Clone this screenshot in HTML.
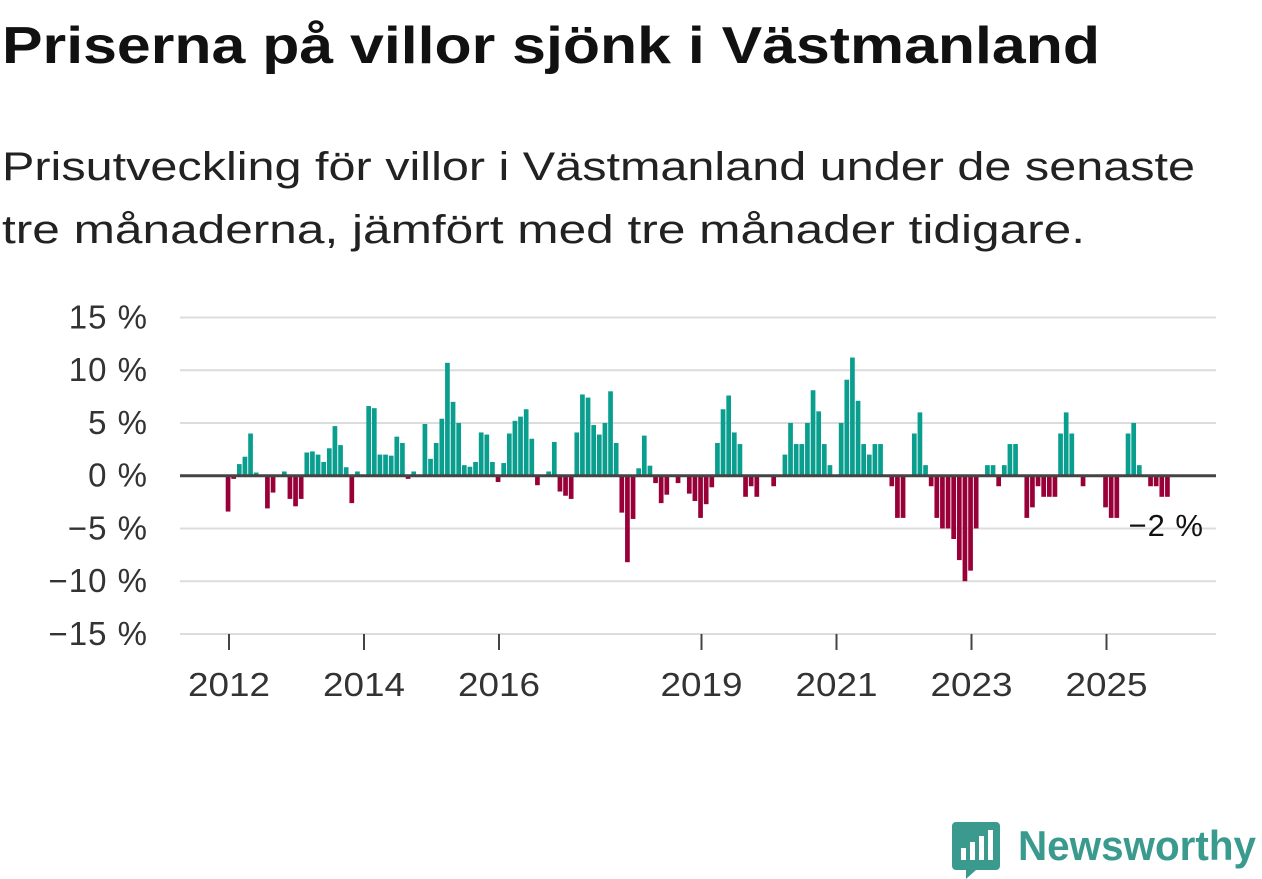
<!DOCTYPE html>
<html><head><meta charset="utf-8"><style>
html,body{margin:0;padding:0;background:#fff;}
svg{display:block;font-family:"Liberation Sans",sans-serif;}
</style></head><body>
<svg id="chart" width="1262" height="879" viewBox="0 0 1262 879">
<text x="2" y="63" font-size="52" font-weight="bold" fill="#111" textLength="1098" lengthAdjust="spacingAndGlyphs">Priserna på villor sjönk i Västmanland</text>
<text x="2" y="180" font-size="40" fill="#222" textLength="1193" lengthAdjust="spacingAndGlyphs">Prisutveckling för villor i Västmanland under de senaste</text>
<text x="2" y="243" font-size="40" fill="#222" textLength="1083" lengthAdjust="spacingAndGlyphs">tre månaderna, jämfört med tre månader tidigare.</text>
<g id="grid"></g>
<g id="yaxis"></g>
<g id="bars"></g>
<g id="xaxis"></g>
<text x="1204" y="536" font-size="31" fill="#111" text-anchor="end" letter-spacing="1">−2 %</text>
<g>
<path d="M956 822 h40 a4 4 0 0 1 4 4 v40 a4 4 0 0 1 -4 4 h-20 l-10 9 v-9 h-10 a4 4 0 0 1 -4 -4 v-40 a4 4 0 0 1 4 -4z" fill="#3a9a8e"/>
<rect x="961" y="848" width="5" height="12" fill="#fff"/>
<rect x="970" y="842" width="5" height="18" fill="#fff"/>
<rect x="979" y="836" width="5" height="24" fill="#fff"/>
<rect x="988" y="830" width="5" height="30" fill="#fff"/>
<text x="1018" y="860" font-size="42" font-weight="bold" fill="#3a9a8e" textLength="238" lengthAdjust="spacingAndGlyphs">Newsworthy</text>
</g>
</svg>
<script>
const values = [-3.4,-0.3,1.1,1.8,4.0,0.3,0,-3.1,-1.6,0,0.4,-2.2,-2.9,-2.2,2.2,2.3,2.0,1.3,2.6,4.7,2.9,0.8,-2.6,0.4,0,6.6,6.4,2.0,2.0,1.9,3.7,3.1,-0.3,0.4,0,4.9,1.6,3.1,5.4,10.7,7.0,5.0,1.0,0.85,1.3,4.1,3.9,1.3,-0.6,1.2,4.0,5.2,5.6,6.3,3.5,-0.9,0,0.4,3.2,-1.5,-1.9,-2.2,4.1,7.7,7.4,4.8,3.9,5.0,8.0,3.1,-3.5,-8.2,-4.1,0.7,3.8,0.95,-0.7,-2.6,-1.8,0,-0.7,0,-1.7,-2.4,-4.0,-2.7,-1.1,3.1,6.3,7.6,4.1,3.0,-2.0,-1.0,-2.0,0,0,-1.0,0,2.0,5.0,3.0,3.0,5.0,8.1,6.1,3.0,1.0,0,5.0,9.1,11.2,7.1,3.0,2.0,3.0,3.0,0,-1.0,-4.0,-4.0,0,4.0,6.0,1.0,-1.0,-4.0,-5.0,-5.0,-6.0,-8.0,-10.0,-9.0,-5.0,0,1,1,-1,1,3,3,0,-4,-3,-1,-2,-2,-2,4,6,4,0,-1,0,0,0,-3,-4,-4,0,4,5,1,0,-1,-1,-2,-2];
const startYear = 2012;
const yTicks = [15,10,5,0,-5,-10,-15];
const yTickLabels = ["15 %","10 %","5 %","0 %","−5 %","−10 %","−15 %"];
const xTickYears = [2012,2014,2016,2019,2021,2023,2025];

const NS="http://www.w3.org/2000/svg";
const y0=475.7, pxPer=10.55;
const yScale = v => y0 - v*pxPer;
const xScale = i => 229 + 5.625*i;
function mk(tag, attrs, parent){const e=document.createElementNS(NS,tag);for(const k in attrs)e.setAttribute(k,attrs[k]);parent.appendChild(e);return e;}
const grid=document.getElementById('grid'), ya=document.getElementById('yaxis'), bars=document.getElementById('bars'), xa=document.getElementById('xaxis');
yTicks.forEach((t,k)=>{
  if(t!==0){const l=mk('line',{x1:180,x2:1216,y1:yScale(t),y2:yScale(t),stroke:'#dcdcdc','stroke-width':2},grid);
  
  }
  const tx=mk('text',{x:148,y:yScale(t)+11,'font-size':33,fill:'#333','text-anchor':'end','letter-spacing':1},ya);
  tx.textContent=yTickLabels[k];
  
  
});
values.forEach((v,i)=>{
  if(v===0)return;
  const x=xScale(i)-3.3;
  const r=mk('rect',{x:x,width:4.7,y:Math.min(yScale(v),y0),height:Math.abs(v)*pxPer,fill:v>0?'#0a9e8f':'#990038'},bars);
  
  
});
const zl=mk('line',{x1:180,x2:1216,y1:y0,y2:y0,stroke:'#444','stroke-width':3},bars);


xTickYears.forEach(yr=>{
  const x=xScale((yr-startYear)*12);
  const tk=mk('line',{x1:x,x2:x,y1:634,y2:650,stroke:'#444','stroke-width':2},xa);
  
  
  const tx=mk('text',{x:x,y:696,'font-size':33,fill:'#333','text-anchor':'middle',textLength:82,lengthAdjust:'spacingAndGlyphs'},xa);
  tx.textContent=String(yr);
  
  
});
</script>
</body></html>
